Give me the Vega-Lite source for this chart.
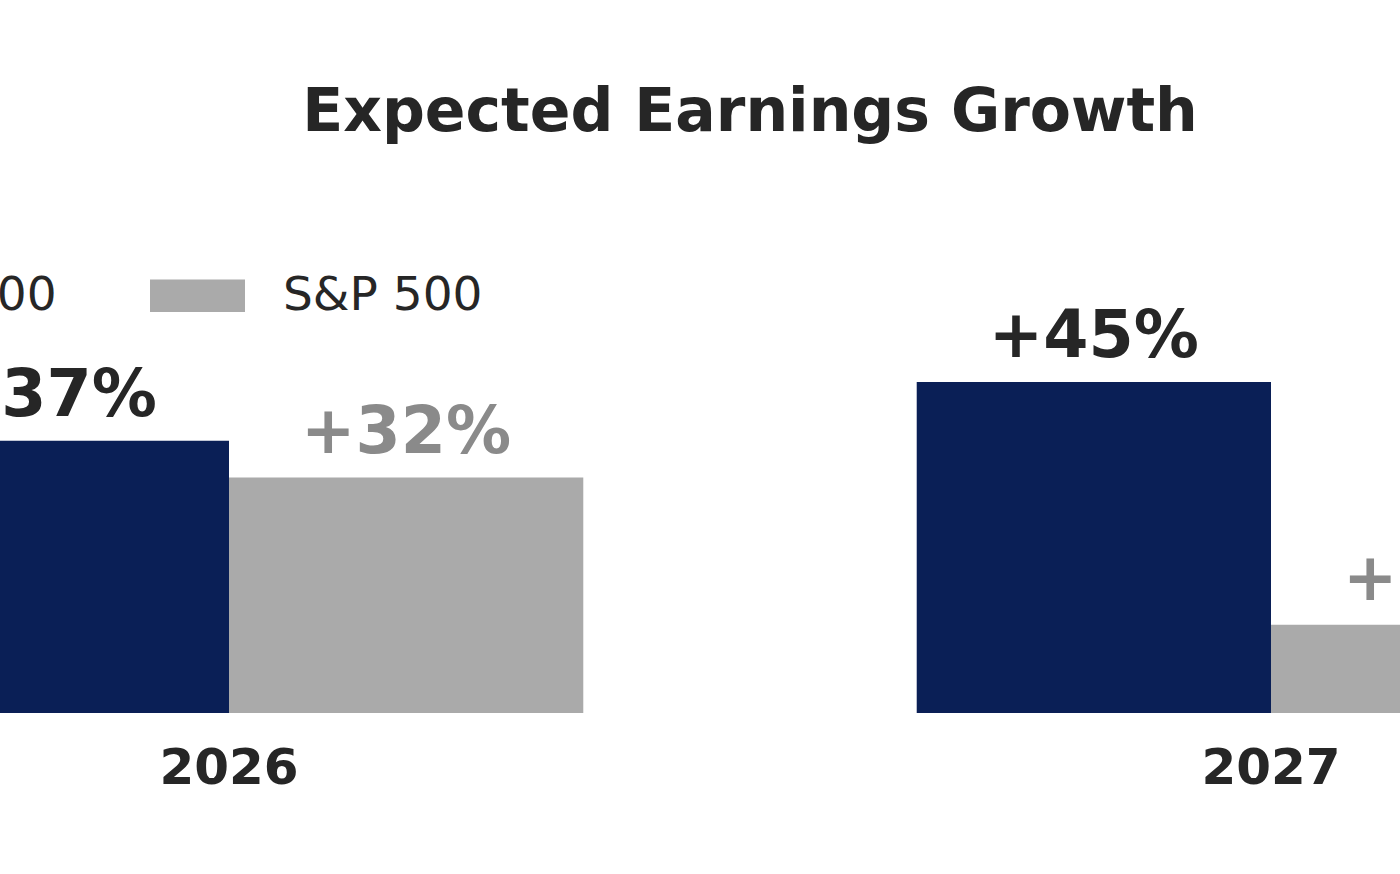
{
  "$schema": "https://vega.github.io/schema/vega-lite/v6.json",
  "autosize": {"type": "none"},
  "width": 2084,
  "height": 493,
  "padding": {"left": -292, "top": 220, "right": -392, "bottom": 161},
  "background": "white",
  "config": {
    "font": "DejaVu Sans",
    "view": {"stroke": null}
  },
  "title": {
    "text": "Expected Earnings Growth",
    "fontSize": 60,
    "fontWeight": "bold",
    "color": "#262626",
    "anchor": "middle",
    "frame": "group",
    "offset": 76
  },
  "data": {
    "values": [
      {"year": "2026", "series": "Nasdaq 100", "growth": 37, "label": "+37%"},
      {"year": "2026", "series": "S&P 500", "growth": 32, "label": "+32%"},
      {"year": "2027", "series": "Nasdaq 100", "growth": 45, "label": "+45%"},
      {"year": "2027", "series": "S&P 500", "growth": 12, "label": "+12%"}
    ]
  },
  "encoding": {
    "x": {
      "field": "year",
      "type": "nominal",
      "scale": {"paddingInner": 0.32, "paddingOuter": 0.16},
      "axis": {
        "title": null,
        "domain": false,
        "ticks": false,
        "labelAngle": 0,
        "labelFontSize": 50,
        "labelFontWeight": "bold",
        "labelColor": "#262626",
        "labelPadding": 30
      }
    },
    "xOffset": {
      "field": "series",
      "type": "nominal",
      "sort": ["Nasdaq 100", "S&P 500"],
      "scale": {"paddingInner": 0, "paddingOuter": 0}
    },
    "y": {
      "field": "growth",
      "type": "quantitative",
      "scale": {"domain": [0, 67], "nice": false},
      "axis": null
    }
  },
  "layer": [
    {
      "mark": {"type": "bar"},
      "encoding": {
        "color": {
          "field": "series",
          "type": "nominal",
          "sort": ["Nasdaq 100", "S&P 500"],
          "scale": {"domain": ["Nasdaq 100", "S&P 500"], "range": ["#0A1F56", "#AAAAAA"]},
          "legend": {
            "title": null,
            "orient": "none",
            "legendX": -66,
            "legendY": 28,
            "direction": "horizontal",
            "columns": 2,
            "columnPadding": 93,
            "symbolType": "M-1,-0.34H1V0.34H-1Z",
            "symbolSize": 9025,
            "symbolStrokeWidth": 0,
            "symbolOpacity": 1,
            "labelFontSize": 47,
            "labelColor": "#262626",
            "labelOffset": 38,
            "labelLimit": 1000
          }
        }
      }
    },
    {
      "mark": {"type": "text", "baseline": "alphabetic", "dy": -25, "fontSize": 65, "fontWeight": "bold"},
      "encoding": {
        "text": {"field": "label"},
        "color": {
          "condition": {"test": "datum.series === 'S&P 500'", "value": "#8A8A8A"},
          "value": "#262626"
        }
      }
    }
  ]
}
